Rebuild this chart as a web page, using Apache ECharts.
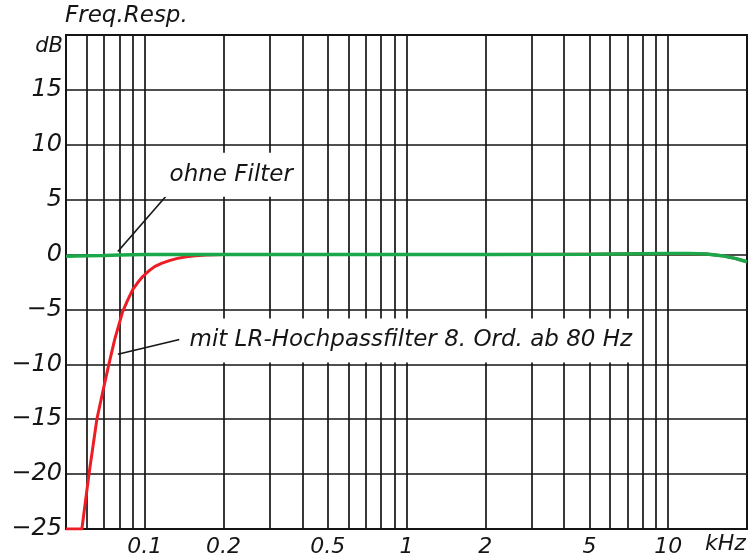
<!DOCTYPE html>
<html>
<head>
<meta charset="utf-8">
<script src="https://cdn.jsdelivr.net/npm/echarts@6/dist/echarts.min.js"></script>
<style>html,body{margin:0;padding:0;background:#fff}#c{width:748px;height:558px}</style>
</head>
<body>
<div id="c"></div>
<script>
// Frequency grid and labels (kHz)
const freqGridLines = [0.06,0.07,0.08,0.09,0.1,0.2,0.3,0.4,0.5,0.6,0.7,0.8,0.9,1,2,3,4,5,6,7,8,9,10];
const freqTickLabels = [0.1,0.2,0.5,1,2,5,10];

// "ohne Filter" (green)
const freqOhne = [0.05,0.06,0.07,0.08,0.1,0.15,0.2,0.5,1,2,5,8,10,12,14,16,18,20];
const dbOhne   = [-0.15,-0.12,-0.08,-0.03,0,0,0,0,0,0,0.02,0.08,0.1,0.1,0.05,-0.1,-0.35,-0.65];

// "mit LR-Hochpassfilter 8. Ord. ab 80 Hz" (red)
const freqLR = [0.05,0.0575,0.0612,0.0656,0.0691,0.0729,0.0768,0.0823,0.0862,0.0899,0.094,0.0982,0.1035,0.109,0.1158,0.124,0.1333,0.144,0.156,0.172,0.2,0.5,1,2,5,10,14,16,18,20];
const dbLR   = [-25,-25,-20,-15,-12.5,-10,-7.7,-5.2,-4.1,-3.2,-2.55,-2.0,-1.5,-1.1,-0.8,-0.55,-0.35,-0.2,-0.11,-0.05,0,0,0,0,0.02,0.1,0.05,-0.1,-0.35,-0.65];

// Annotations (data coordinates)
const noteOhne = {text: 'ohne Filter', at: [0.1139, 7.27], leader: [[0.0789, 0.27], [0.120, 5.27]]};
const noteLR = {text: 'mit LR-Hochpassfilter 8. Ord. ab 80 Hz', at: [0.1357, -7.82], leader: [[0.0789, -9.09], [0.1357, -7.73]]};

const FONT = '"DejaVu Sans", sans-serif';
const INK = '#151515';
const chart = echarts.init(document.getElementById('c'), null, {renderer: 'canvas'});

const zip = (a, b) => a.map((v, i) => [v, b[i]]);
const noteLabel = (txt) => ({
  show: true, position: 'right', distance: 0, formatter: txt,
  backgroundColor: '#fff', padding: [9, 7, 9, 10],
  color: INK, fontStyle: 'italic', fontFamily: FONT, fontSize: 23, lineHeight: 26
});

chart.setOption({
  animation: false,
  backgroundColor: '#fff',
  grid: {left: 66, right: 1, top: 35, bottom: 29, show: true, borderColor: INK, borderWidth: 2, outerBoundsMode: 'none', containLabel: false},
  xAxis: {
    type: 'log', logBase: 10, min: 0.05, max: 20,
    axisLine: {show: false},
    axisTick: {show: false, customValues: freqGridLines},
    axisLabel: {customValues: freqTickLabels, formatter: v => String(+Number(v).toPrecision(3)),
      color: INK, fontStyle: 'italic', fontFamily: FONT, fontSize: 22, margin: 7},
    splitLine: {show: true, lineStyle: {color: INK, width: 1.7}},
    minorSplitLine: {show: false}
  },
  yAxis: {
    type: 'value', min: -25, max: 20, interval: 5,
    axisLine: {show: false}, axisTick: {show: false},
    axisLabel: {formatter: v => v === 20 ? '' : (v < 0 ? '\u2212' + Math.abs(v) : String(v)),
      color: INK, fontStyle: 'italic', fontFamily: FONT, fontSize: 24, margin: 4},
    splitLine: {show: true, lineStyle: {color: INK, width: 1.7}}
  },
  graphic: [
    {type: 'text', left: 65, top: 5, style: {text: 'Freq.Resp.', fill: INK, font: 'italic 23px "DejaVu Sans"'}},
    {type: 'text', right: 748 - 63, top: 36, style: {text: 'dB', fill: INK, font: 'italic 21px "DejaVu Sans"'}},
    {type: 'text', left: 705, top: 533, style: {text: 'kHz', fill: INK, font: 'italic 22px "DejaVu Sans"'}}
  ],
  series: [
    {
      type: 'line', name: 'LR', data: zip(freqLR, dbLR), showSymbol: false, symbol: 'none',
      lineStyle: {color: '#ee1c25', width: 3, join: 'round'}, z: 3
    },
    {
      type: 'line', name: 'ohne', data: zip(freqOhne, dbOhne), showSymbol: false, symbol: 'none',
      lineStyle: {color: '#1aa84b', width: 3.5}, z: 4,
      markLine: {
        silent: true, symbol: 'none', animation: false,
        lineStyle: {color: INK, width: 1.6, type: 'solid'},
        label: {show: false},
        data: [
          [{coord: noteOhne.leader[0]}, {coord: noteOhne.leader[1]}],
          [{coord: noteLR.leader[0]}, {coord: noteLR.leader[1]}]
        ]
      },
      markPoint: {
        silent: true, symbol: 'circle', symbolSize: 0, animation: false,
        data: [
          {coord: noteOhne.at, label: noteLabel(noteOhne.text)},
          {coord: noteLR.at, label: noteLabel(noteLR.text)}
        ]
      }
    }
  ]
});
</script>
</body>
</html>
